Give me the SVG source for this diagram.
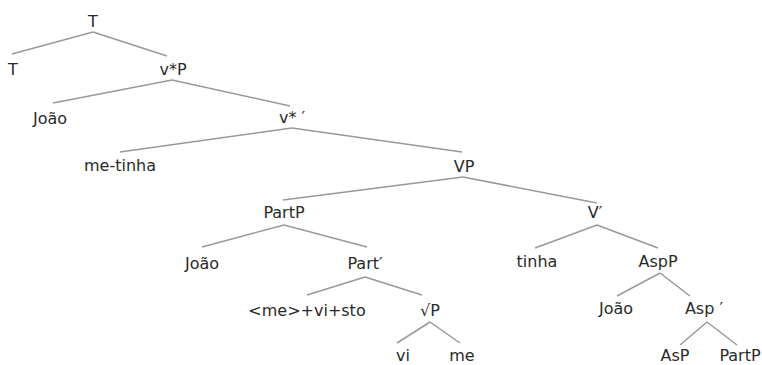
<svg xmlns="http://www.w3.org/2000/svg" width="762" height="365" viewBox="0 0 762 365">
<style>
.e{stroke:#999;stroke-width:1.5;fill:none}
text{font-family:"DejaVu Sans",sans-serif;font-size:16px;fill:#2a2a2a;text-anchor:middle}
</style>
<rect width="762" height="365" fill="#fff"/>
<g id="edges">
<line class="e" x1="93" y1="32" x2="12" y2="54"/>
<line class="e" x1="93" y1="32" x2="167" y2="56"/>
<line class="e" x1="172" y1="80" x2="53" y2="103"/>
<line class="e" x1="172" y1="80" x2="290" y2="106"/>
<line class="e" x1="292" y1="128" x2="120" y2="152"/>
<line class="e" x1="292" y1="128" x2="462" y2="152"/>
<line class="e" x1="463" y1="177" x2="283" y2="200"/>
<line class="e" x1="463" y1="177" x2="597" y2="203"/>
<line class="e" x1="284" y1="225" x2="202" y2="247"/>
<line class="e" x1="284" y1="225" x2="367" y2="247"/>
<line class="e" x1="597" y1="225" x2="535" y2="248"/>
<line class="e" x1="597" y1="225" x2="658" y2="248"/>
<line class="e" x1="365" y1="277" x2="307" y2="295"/>
<line class="e" x1="365" y1="277" x2="422" y2="295"/>
<line class="e" x1="660" y1="273" x2="617" y2="296"/>
<line class="e" x1="660" y1="273" x2="690" y2="296"/>
<line class="e" x1="430" y1="322" x2="397" y2="343"/>
<line class="e" x1="430" y1="322" x2="460" y2="343"/>
<line class="e" x1="707" y1="322" x2="680" y2="345"/>
<line class="e" x1="707" y1="322" x2="737" y2="345"/>
</g>
<g id="n-T-root"><text x="93" y="27">T</text></g>
<g id="n-T"><text x="13" y="75">T</text></g>
<g id="n-vP"><text x="173" y="75">v*P</text></g>
<g id="n-joao1"><text x="50" y="124">João</text></g>
<g id="n-vbar"><text x="292" y="123">v* ′</text></g>
<g id="n-metinha"><text x="120" y="171">me-tinha</text></g>
<g id="n-VP"><text x="464" y="172">VP</text></g>
<g id="n-PartP"><text x="284" y="218">PartP</text></g>
<g id="n-Vbar"><text x="595" y="218">V′</text></g>
<g id="n-joao2"><text x="202" y="269">João</text></g>
<g id="n-Partbar"><text x="365" y="269">Part′</text></g>
<g id="n-tinha"><text x="537" y="267">tinha</text></g>
<g id="n-AspP"><text x="658" y="267">AspP</text></g>
<g id="n-mevisto"><text x="307" y="316">&lt;me&gt;+vi+sto</text></g>
<g id="n-rootP"><text x="430" y="316">√P</text></g>
<g id="n-joao3"><text x="616" y="314">João</text></g>
<g id="n-Aspbar"><text x="704" y="314">Asp ′</text></g>
<g id="n-vi"><text x="403" y="361">vi</text></g>
<g id="n-me"><text x="462" y="361">me</text></g>
<g id="n-AsP"><text x="675" y="361">AsP</text></g>
<g id="n-PartP2"><text x="740" y="361">PartP</text></g>
</svg>
